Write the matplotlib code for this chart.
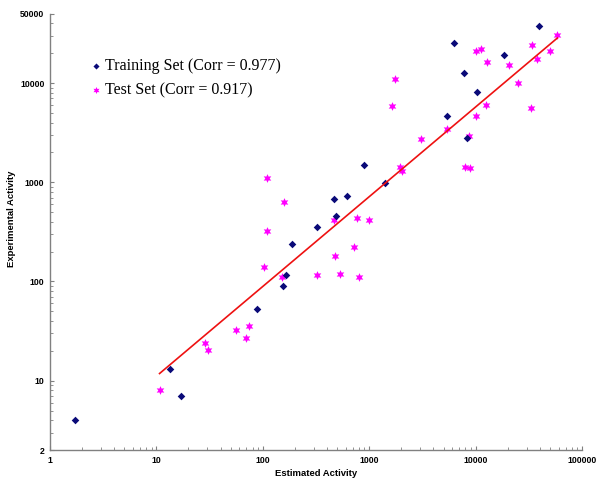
import matplotlib
matplotlib.use("Agg")
import matplotlib.pyplot as plt
from matplotlib.ticker import FixedLocator, NullFormatter, LogLocator

# values (log-log)
train_x = [1.73, 13.4, 17.1, 88.5, 153, 164, 189, 325, 470, 483, 622, 894,
           1417, 5390, 6230, 7800, 8250, 10250, 18500, 39500]
train_y = [4.05, 13.1, 7.07, 52.7, 91, 116, 241, 350, 681, 452, 735, 1507,
           993, 4640, 25200, 12650, 2820, 8080, 19200, 37300]

test_x = [10.8, 28.3, 30.4, 56.2, 69.3, 74.5, 103, 109, 110, 151, 158, 320,
          470, 480, 527, 713, 762, 807, 1003, 1650, 1746, 1933, 2048, 3030,
          5390, 7900, 8610, 8880, 9960, 10030, 11250, 12550, 12640, 20500,
          24900, 33300, 34000, 37600, 49800, 58000]
test_y = [8.06, 24.2, 20.2, 32.4, 27.1, 35.2, 140.6, 319, 1107, 111, 635, 116,
          421, 181, 119, 225, 431, 111, 421, 5920, 11000, 1420, 1312, 2740,
          3450, 1420, 2950, 1387, 4660, 21200, 22200, 5970, 16200, 15200,
          10000, 5570, 24200, 17400, 21200, 30300]

fit_x = [10.7, 58400]
fit_y = [11.8, 28400]

x_ticks = [1, 10, 100, 1000, 10000, 100000]
y_ticks = [2, 10, 100, 1000, 10000, 50000]

train_label = "Training Set (Corr = 0.977)"
test_label = "Test Set (Corr = 0.917)"

fig = plt.figure(figsize=(6, 4.8), dpi=100)
ax = fig.add_axes([0.0833, 0.0625, 0.887, 0.909])

ax.scatter(test_x, test_y, marker=(6, 1, 0), s=40, color="#ff00ff",
           linewidths=0, label=test_label, zorder=2)
ax.scatter(train_x, train_y, marker="D", s=15, color="#0a0a78",
           linewidths=0, label=train_label, zorder=3)
ax.plot(fit_x, fit_y, color="#ee1111", lw=1.2, zorder=4)

ax.set_xscale("log")
ax.set_yscale("log")
ax.set_xlim(1, 100000)
ax.set_ylim(2, 50000)

ax.xaxis.set_major_locator(FixedLocator(x_ticks))
ax.set_xticklabels([str(t) for t in x_ticks])
ax.yaxis.set_major_locator(FixedLocator(y_ticks))
ax.set_yticklabels([str(t) for t in y_ticks])
for axis in (ax.xaxis, ax.yaxis):
    axis.set_minor_locator(LogLocator(base=10, subs=range(2, 10), numticks=20))
    axis.set_minor_formatter(NullFormatter())

for lab in ax.get_xticklabels() + ax.get_yticklabels():
    lab.set_fontfamily("Liberation Sans")
    lab.set_fontweight("bold")
    lab.set_fontsize(6.2)

ax.tick_params(which="both", direction="in", color="#808080")
ax.tick_params(which="major", length=3, width=0.8, pad=4)
ax.tick_params(which="minor", length=2, width=0.6)

for s in ("top", "right"):
    ax.spines[s].set_visible(False)
for s in ("left", "bottom"):
    ax.spines[s].set_color("#808080")
    ax.spines[s].set_linewidth(1.0)

ax.set_xlabel("Estimated Activity", fontfamily="Liberation Sans",
              fontweight="bold", fontsize=6.8, labelpad=3)
ax.set_ylabel("Experimental Activity", fontfamily="Liberation Sans",
              fontweight="bold", fontsize=6.8)
ax.yaxis.set_label_coords(-0.064, 0.53)

handles, labels = ax.get_legend_handles_labels()
ax.legend(handles[::-1], labels[::-1], loc="upper left",
          bbox_to_anchor=(0.065, 0.913), frameon=False,
          prop={"family": "Liberation Serif", "size": 11.5},
          handlelength=0.6, handletextpad=0.3, labelspacing=0.5,
          markerscale=0.8, borderaxespad=0)

fig.savefig("out.png", dpi=100)
